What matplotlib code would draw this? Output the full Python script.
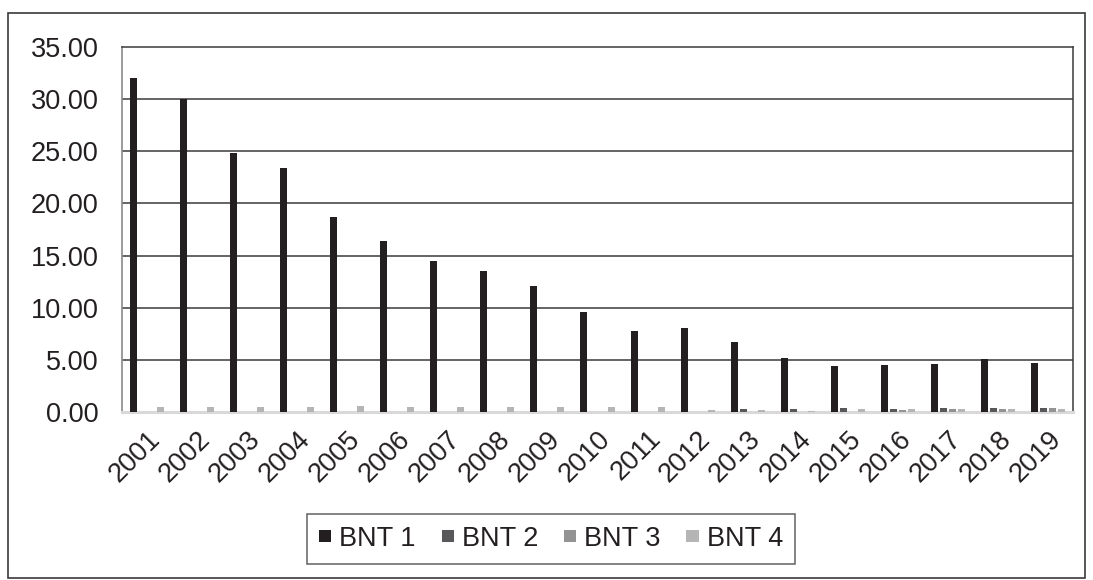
import matplotlib
matplotlib.use("Agg")
import matplotlib.pyplot as plt
import numpy as np

plt.rcParams['font.family'] = ['Liberation Sans', 'DejaVu Sans']

years = [str(y) for y in range(2001, 2020)]
bnt1 = [32.0, 30.0, 24.8, 23.4, 18.7, 16.4, 14.5, 13.5, 12.1, 9.6,
        7.8, 8.1, 6.7, 5.2, 4.4, 4.5, 4.6, 5.1, 4.7]
bnt2 = [0, 0, 0, 0, 0, 0, 0, 0, 0, 0,
        0, 0, 0.25, 0.3, 0.35, 0.3, 0.4, 0.35, 0.4]
bnt3 = [0, 0, 0, 0, 0, 0, 0, 0, 0, 0,
        0, 0, 0, 0, 0, 0.2, 0.25, 0.3, 0.35]
bnt4 = [0.45, 0.45, 0.5, 0.5, 0.6, 0.5, 0.5, 0.5, 0.5, 0.5,
        0.45, 0.15, 0.2, 0.1, 0.25, 0.25, 0.25, 0.3, 0.25]
series_names = ['BNT 1', 'BNT 2', 'BNT 3', 'BNT 4']
colors = ['#231f20', '#58585a', '#939393', '#b5b5b5']
yticks = [0, 5, 10, 15, 20, 25, 30, 35]

FS = 19.5
W, H = 1093, 580
fig = plt.figure(figsize=(W / 100, H / 100), dpi=100)
ax = fig.add_axes([122 / W, 1 - 412 / H, (1073 - 122) / W, (412 - 47) / H])

x = np.arange(len(years))
width = 0.14
offsets = [-0.27, -0.09, 0.09, 0.27]
for vals, off, col, name in zip([bnt1, bnt2, bnt3, bnt4], offsets, colors, series_names):
    ax.bar(x + off, vals, width=width, color=col, label=name, zorder=3)

ax.set_xlim(-0.5, len(years) - 0.5)
ax.set_ylim(0, 35)
ax.set_yticks(yticks)
ax.set_yticklabels([f"{v:.2f}" for v in yticks], fontsize=FS, color='#231f20')
ax.set_xticks(x)
ax.set_xticklabels(years, rotation=45, ha='right', va='top', rotation_mode='anchor',
                   fontsize=FS, color='#231f20')
ax.tick_params(axis='both', length=0)
ax.tick_params(axis='y', pad=17)
ax.tick_params(axis='x', pad=10)

for v in yticks[1:-1]:
    ax.axhline(v, color='#3a3a3a', linewidth=1.1, zorder=1)

ax.spines['top'].set_color('#3a3a3a')
ax.spines['top'].set_linewidth(1.1)
ax.spines['right'].set_color('#3a3a3a')
ax.spines['right'].set_linewidth(1.1)
ax.spines['left'].set_color('#8a8a8a')
ax.spines['left'].set_linewidth(1.2)
ax.spines['bottom'].set_color('#d9d9d9')
ax.spines['bottom'].set_linewidth(2.2)

leg = fig.legend(loc='center', bbox_to_anchor=(551 / W, 1 - 539 / H), ncol=4,
                 fontsize=FS, frameon=True, fancybox=False, edgecolor='#3a3a3a',
                 handlelength=0.45, handleheight=0.3, handletextpad=0.3,
                 columnspacing=0.95, borderpad=0.45, borderaxespad=0)
leg.get_frame().set_linewidth(1.1)
for t in leg.get_texts():
    t.set_color('#231f20')

# outer chart frame
frame = plt.Rectangle((8 / W, 2 / H), (1085 - 8) / W, (567 - 2) / H,
                      transform=fig.transFigure, fill=False,
                      edgecolor='#3a3a3a', linewidth=1.2)
fig.patches.append(frame)

fig.savefig('out.png', dpi=100, facecolor='white')
